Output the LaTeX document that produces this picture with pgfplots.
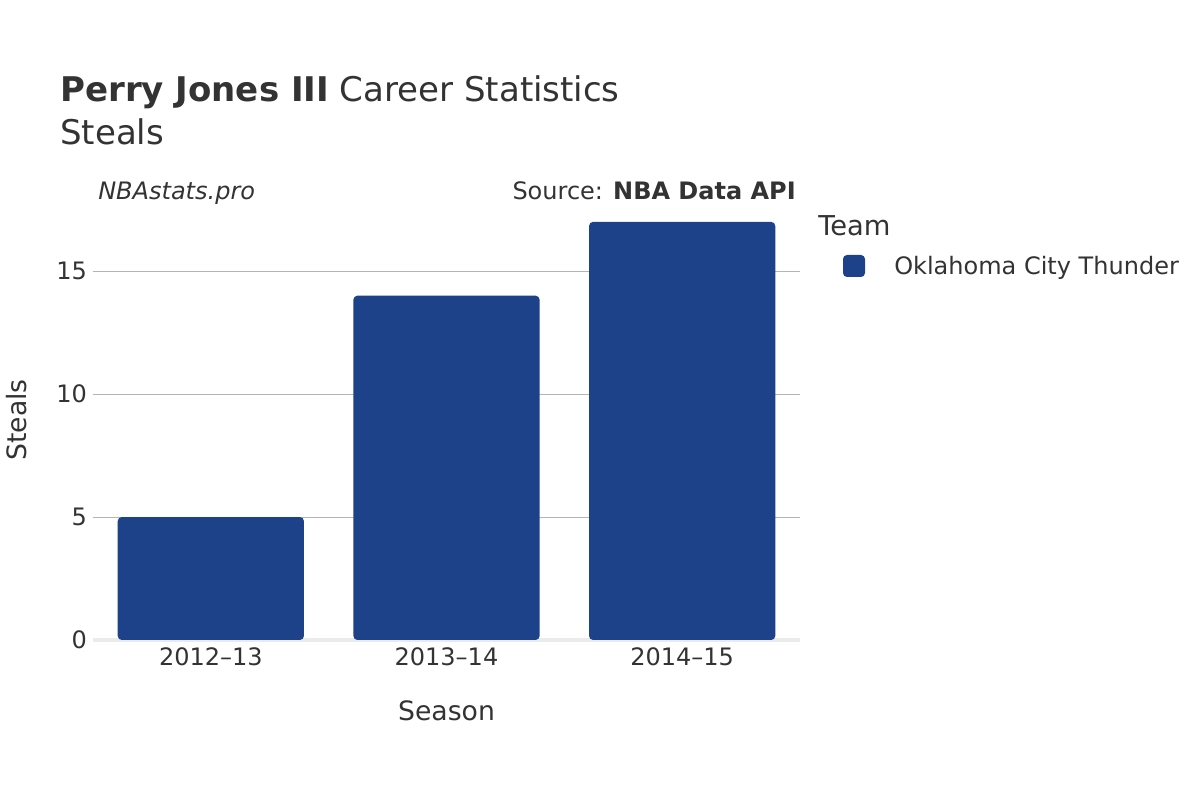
\documentclass[border=0pt]{standalone}
\usepackage{pgfplots}
\pgfplotsset{compat=1.18}
\usepackage{fontspec}
\setmainfont{DejaVu Sans}
\definecolor{txt}{HTML}{333333}
\definecolor{bar}{HTML}{1D428A}
\definecolor{grid}{HTML}{B4B4B4}
\definecolor{zero}{HTML}{EBEBEB}
\begin{document}
\begin{tikzpicture}[x=0.75pt,y=0.75pt]
\useasboundingbox[fill=white] (0,0) rectangle (1200,800);
% titles
\node[anchor=base west,inner sep=0,text=txt,font=\fontsize{25.5pt}{30pt}\selectfont] at (60,698) {\textbf{Perry Jones III} Career Statistics};
\node[anchor=base west,inner sep=0,text=txt,font=\fontsize{25.5pt}{30pt}\selectfont] at (60,655) {Steals};
\node[anchor=base west,inner sep=0,text=txt,font=\fontsize{18pt}{22pt}\selectfont\itshape] at (98,600) {NBAstats.pro};
\node[anchor=base east,inner sep=0,text=txt,font=\fontsize{18pt}{22pt}\selectfont] at (796,600) {Source: \textbf{NBA Data API}};
% legend
\node[anchor=base west,inner sep=0,text=txt,font=\fontsize{20.5pt}{24pt}\selectfont] at (818,564) {Team};
\fill[bar,rounded corners=3pt] (843,523) rectangle (865,545);
\node[anchor=base west,inner sep=0,text=txt,font=\fontsize{18pt}{22pt}\selectfont] at (894,525) {Oklahoma City Thunder};
\begin{axis}[
  at={(69.75pt,120pt)}, anchor=south west,
  scale only axis, width=530.25pt, height=330pt,
  xmin=-0.5, xmax=2.5, ymin=0, ymax=17.89,
  axis line style={draw=none},
  xtick={0,1,2}, xticklabels={2012–13,2013–14,2014–15},
  ytick={0,5,10,15},
  major tick length=0pt,
  ymajorgrids, grid style={color=grid,line width=0.75pt},
  tick label style={text=txt,font=\fontsize{18pt}{22pt}\selectfont},
  yticklabel style={xshift=-1pt},
  xticklabel style={yshift=-2pt},
  xlabel={Season}, ylabel={Steals},
  label style={text=txt,font=\fontsize{20pt}{24pt}\selectfont},
  xlabel style={at={(axis description cs:0.5,0)},anchor=base,yshift=-60pt},
  ylabel style={at={(axis description cs:0,0.5)},anchor=base,yshift=50pt},
  /pgf/number format/assume math mode=true,
  clip=false,
]
\draw[zero,line width=2.5pt] (axis cs:-0.5,0) -- (axis cs:2.5,0);
\addplot[ybar, bar width=0.79, fill=bar, draw=none, rounded corners=3pt] coordinates {(0,5) (1,14) (2,17)};
\end{axis}
\end{tikzpicture}
\end{document}
